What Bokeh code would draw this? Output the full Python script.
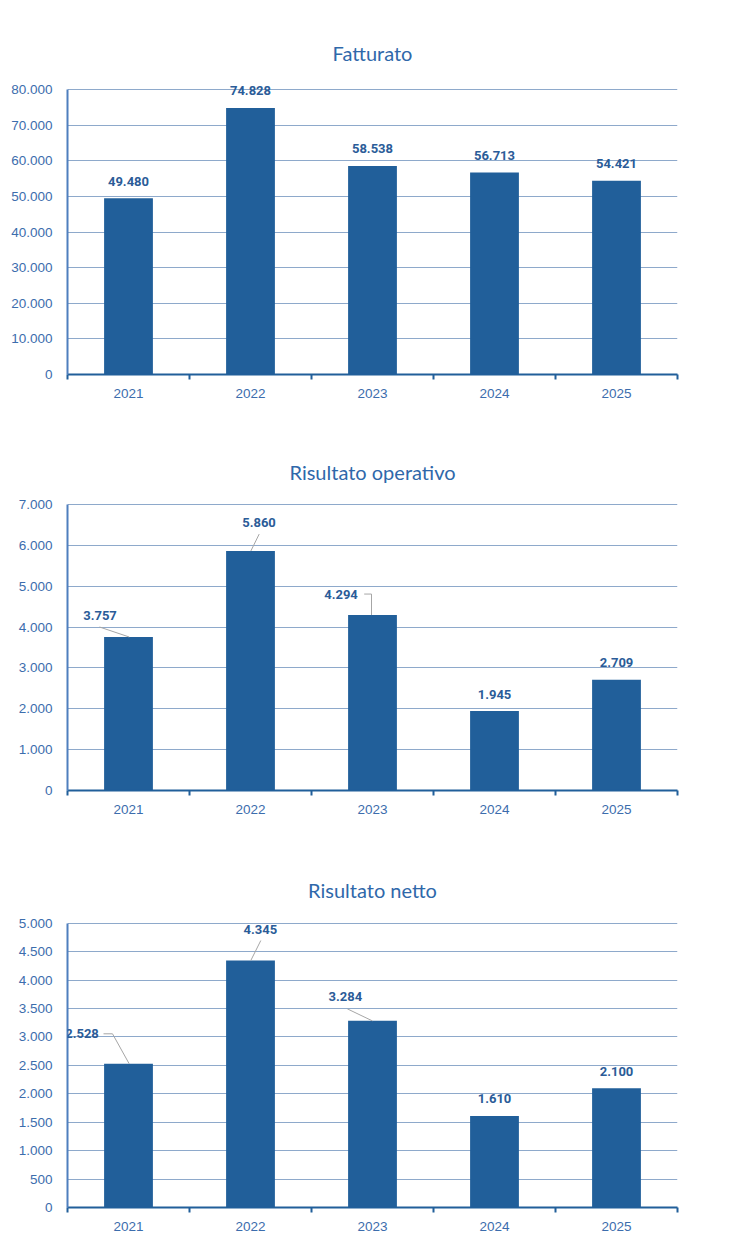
from bokeh.plotting import figure
from bokeh.models import Range1d, FixedTicker, LabelSet, ColumnDataSource
from bokeh.layouts import column
from bokeh.core.properties import value
from bokeh.embed import file_html
from bokeh.resources import INLINE

# ---------------- data ----------------
years = ["2021", "2022", "2023", "2024", "2025"]
fatturato = [49480, 74828, 58538, 56713, 54421]
risultato_operativo = [3757, 5860, 4294, 1945, 2709]
risultato_netto = [2528, 4345, 3284, 1610, 2100]

titles = ["Fatturato", "Risultato operativo", "Risultato netto"]
y_max = [80000, 7000, 5000]
y_step = [10000, 1000, 500]

# ---------------- style / layout ----------------
BAR = "#215F9A"
LABEL = "#2B5C98"
TICK = "#3C6DAD"
TITLE = "#2F68AA"
GRID = "#8EA9CB"
LEADER = "#A6A6A6"

# page coordinates: fig_top, fig_bottom, frame_left, top gridline y, zero y
layout = [
    dict(fig_top=0, fig_bottom=430, frame_left=65.5, top_y=89.3, zero_y=374.3, title_standoff=21),
    dict(fig_top=430, fig_bottom=848, frame_left=65.5, top_y=504.3, zero_y=790.3, title_standoff=13),
    dict(fig_top=848, fig_bottom=1246, frame_left=67, top_y=923.3, zero_y=1207.5, title_standoff=16),
]
FRAME_W = 610
PAD = 14

# label offsets in px (dx right, dy up) relative to bar-top centre
label_dx = [
    [0, 0, 0, 0, 0],
    [-28.5, 8.5, -31.5, 0, 0],
    [-46.5, 9.8, -27.2, 0, 0],
]
label_dy = [
    [17, 17, 17, 17, 17],
    [21, 29, 21, 17, 17],
    [30, 31.5, 24, 17, 17],
]
# leader lines: px offsets relative to bar-top centre
leaders = [
    [None] * 5,
    [[(-29, 10), (0.7, 0)], [(8.7, 17), (0.3, 0)], [(-8.3, 21), (-1, 21), (-1, 0)], None, None],
    [[(-25, 30), (-16, 30), (0.7, 0)], [(10.3, 20), (0.3, 0)], [(-25.2, 12), (-0.2, 0)], None, None],
]


def fmt(v):
    return f"{v:,}".replace(",", ".")


def make_chart(i, values):
    L = layout[i]
    ymax = y_max[i]
    ppu = (L["zero_y"] - L["top_y"]) / ymax
    frame_top = L["top_y"] - PAD
    frame_h = L["zero_y"] - frame_top
    xppu = FRAME_W / len(years)

    p = figure(
        output_backend="svg",
        toolbar_location=None,
        frame_width=FRAME_W,
        frame_height=int(round(frame_h)),
        x_range=Range1d(0, len(years)),
        y_range=Range1d(0, round(frame_h) / ppu),
        min_border_left=int(L["frame_left"]),
        min_border_right=40,
        min_border_top=int(round(frame_top - L["fig_top"])),
        min_border_bottom=int(round(L["fig_bottom"] - L["zero_y"])),
        title=titles[i],
    )
    p.outline_line_color = None
    p.background_fill_color = "white"
    p.border_fill_color = "white"

    p.title.align = "center"
    p.title.text_font = "Lato"
    p.title.text_font_size = "20px"
    p.title.text_font_style = "normal"
    p.title.text_color = TITLE
    p.title.standoff = L["title_standoff"]

    xs = [k + 0.5 for k in range(len(years))]
    p.vbar(x=xs, top=values, bottom=0, width=0.4, fill_color=BAR, line_color=None)

    # y axis
    yticks = list(range(0, ymax + 1, y_step[i]))
    p.yaxis.ticker = FixedTicker(ticks=yticks)
    p.yaxis.major_label_overrides = {t: fmt(t) for t in yticks}
    p.yaxis.bounds = (0, ymax)
    p.yaxis.axis_line_color = "#4F7FBE"
    p.yaxis.axis_line_width = 2
    p.yaxis.major_tick_line_color = None
    p.yaxis.minor_tick_line_color = None
    p.yaxis.major_label_text_font = "Liberation Sans"
    p.yaxis.major_label_text_font_size = "13.5px"
    p.yaxis.major_label_text_color = TICK
    p.yaxis.major_label_standoff = 9
    p.ygrid.ticker = FixedTicker(ticks=yticks)
    p.ygrid.grid_line_color = GRID
    p.ygrid.grid_line_width = 1
    p.xgrid.grid_line_color = None

    # x axis
    p.xaxis.ticker = FixedTicker(ticks=xs, minor_ticks=list(range(len(years) + 1)))
    p.xaxis.major_label_overrides = {x: y for x, y in zip(xs, years)}
    p.xaxis.axis_line_color = BAR
    p.xaxis.axis_line_width = 2
    p.xaxis.major_tick_line_color = None
    p.xaxis.major_tick_out = 0
    p.xaxis.major_tick_in = 0
    p.xaxis.minor_tick_line_color = BAR
    p.xaxis.minor_tick_line_width = 2
    p.xaxis.minor_tick_out = 5
    p.xaxis.minor_tick_in = 0
    p.xaxis.major_label_text_font = "Liberation Sans"
    p.xaxis.major_label_text_font_size = "13.5px"
    p.xaxis.major_label_text_color = TICK
    p.xaxis.major_label_standoff = 9

    # leader lines
    lx, ly = [], []
    for k, ld in enumerate(leaders[i]):
        if ld is None:
            continue
        lx.append([xs[k] + dx / xppu for dx, dy in ld])
        ly.append([values[k] + dy / ppu for dx, dy in ld])
    if lx:
        p.multi_line(xs=lx, ys=ly, line_color=LEADER, line_width=1)

    src = ColumnDataSource(dict(
        x=xs, y=values, text=[fmt(v) for v in values],
        dx=label_dx[i], dy=label_dy[i],
    ))
    p.add_layout(LabelSet(
        x="x", y="y", text="text", source=src, x_offset="dx", y_offset="dy",
        text_align="center", text_baseline="middle",
        text_font=value("Roboto"), text_font_style="bold",
        text_font_size="13px", text_color=LABEL,
    ))
    return p


charts = [
    make_chart(0, fatturato),
    make_chart(1, risultato_operativo),
    make_chart(2, risultato_netto),
]
layout_col = column(*charts, spacing=0)
open("out.html", "w").write(file_html(layout_col, INLINE))
